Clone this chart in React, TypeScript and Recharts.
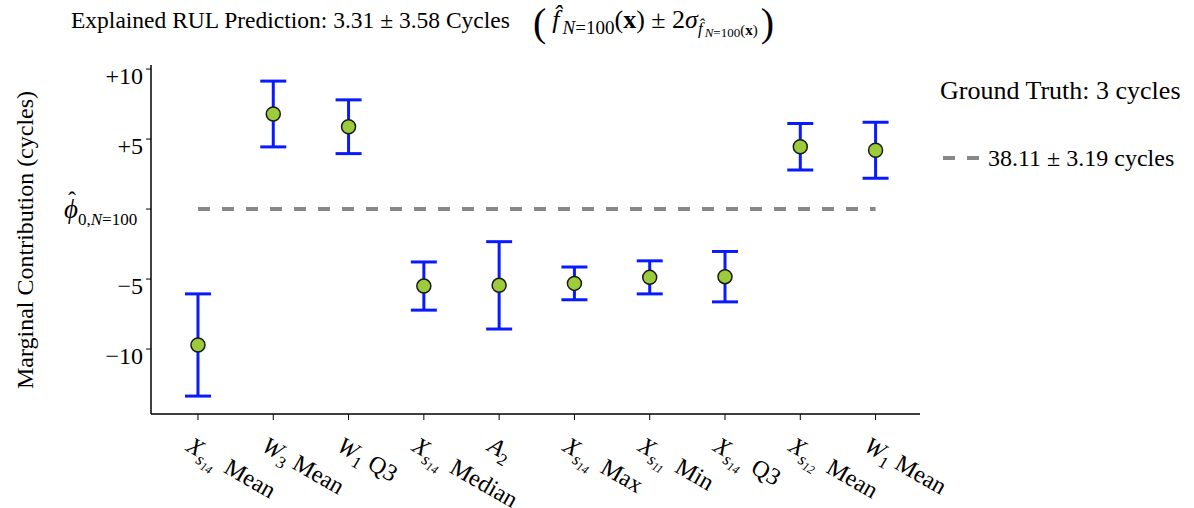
import React from "react";
import {
  ComposedChart,
  Scatter,
  ErrorBar,
  XAxis,
  YAxis,
  ReferenceLine,
} from "recharts";

const SERIF = "'Liberation Serif', 'DejaVu Serif', serif";

// feature labels: symbol, subscript, nested subscript, statistic
const featureSymbols = ["X", "W", "W", "X", "A", "X", "X", "X", "X", "W"];
const featureSubs = ["s", "3", "1", "s", "2", "s", "s", "s", "s", "1"];
const featureSubSubs = ["14", "", "", "14", "", "14", "11", "14", "12", ""];
const featureStats = ["Mean", "Mean", "Q3", "Median", "", "Max", "Min", "Q3", "Mean", "Mean"];

// marginal contribution (cycles) and 2-sigma half width
const contributions = [-9.71, 6.79, 5.88, -5.5, -5.45, -5.31, -4.88, -4.83, 4.45, 4.2];
const errors = [3.65, 2.35, 1.92, 1.72, 3.12, 1.17, 1.18, 1.8, 1.66, 2.0];

const yTicks = [-10, -5, 0, 5, 10];
const baseValue = 0;

const data = contributions.map((v, i) => ({ x: i, y: v, err: errors[i] }));

function FeatureTick({ x, y, payload }: any) {
  const i = payload.value as number;
  const hasSubSub = featureSubSubs[i] !== "";
  const stat = featureStats[i];
  return (
    <g transform={`translate(${x - 13},${y + 28}) rotate(30)`}>
      <text fontFamily={SERIF} fontSize={24} fill="#000">
        <tspan fontStyle="italic">{featureSymbols[i]}</tspan>
        {hasSubSub ? (
          <>
            <tspan fontStyle="italic" fontSize={17} dy={6}>
              {featureSubs[i]}
            </tspan>
            <tspan fontSize={12} fontStyle="italic" dy={3}>
              {featureSubSubs[i]}
            </tspan>
            {stat && (
              <tspan dx={10} dy={-9}>
                {stat}
              </tspan>
            )}
          </>
        ) : (
          <>
            <tspan fontSize={17} dy={6}>
              {featureSubs[i]}
            </tspan>
            {stat && (
              <tspan dx={7} dy={-6}>
                {stat}
              </tspan>
            )}
          </>
        )}
      </text>
    </g>
  );
}

function ContributionTick({ x, y, payload }: any) {
  const v = payload.value as number;
  if (v === baseValue) {
    return (
      <g fontFamily={SERIF} fill="#000">
        <text x={x - 71} y={y - 1} fontSize={24} textAnchor="middle">
          {"\u02C6"}
        </text>
        <text x={x - 79} y={y + 9}>
          <tspan fontSize={27} fontStyle="italic">
            {"\u03D5"}
          </tspan>
          <tspan fontSize={17} dy={7}>
            0,
          </tspan>
          <tspan fontSize={17} fontStyle="italic">
            N
          </tspan>
          <tspan fontSize={17}>=100</tspan>
        </text>
      </g>
    );
  }
  const label = v > 0 ? `+${v}` : `\u2212${Math.abs(v)}`;
  return (
    <text x={x} y={y + 15} textAnchor="end" fontFamily={SERIF} fontSize={24} fill="#000">
      {label}
    </text>
  );
}

export default function App() {
  return (
    <div style={{ position: "absolute", left: 0, top: 0, width: 1194, height: 508, background: "#fff" }}>
      <ComposedChart
        width={1194}
        height={508}
        data={data}
        margin={{ top: 65, right: 274, bottom: 0, left: 0 }}
      >
        <XAxis
          type="number"
          dataKey="x"
          domain={[-0.624, 9.59]}
          ticks={[0, 1, 2, 3, 4, 5, 6, 7, 8, 9]}
          allowDataOverflow
          height={94}
          tickSize={6}
          axisLine={{ stroke: "#000", strokeWidth: 1.5 }}
          tickLine={{ stroke: "#000", strokeWidth: 1 }}
          tick={<FeatureTick />}
          interval={0}
        />
        <YAxis
          type="number"
          dataKey="y"
          domain={[-14.64, 10.29]}
          ticks={yTicks}
          allowDataOverflow
          width={151}
          tickSize={5}
          tickMargin={3}
          axisLine={{ stroke: "#000", strokeWidth: 1.5 }}
          tickLine={{ stroke: "#000", strokeWidth: 1 }}
          tick={<ContributionTick />}
        />
        <ReferenceLine
          segment={[
            { x: 0, y: baseValue },
            { x: 9, y: baseValue },
          ]}
          stroke="#888"
          strokeWidth={4}
          strokeDasharray="12 12"
        />
        <Scatter
          dataKey="y"
          isAnimationActive={false}
          shape={(p: any) => (
            <circle cx={p.cx} cy={p.cy} r={7} fill="#9ccb3b" stroke="#1a1a1a" strokeWidth={1.5} />
          )}
        >
          <ErrorBar dataKey="err" direction="y" width={13} stroke="#0a1aff" strokeWidth={3} isAnimationActive={false} />
        </Scatter>
      </ComposedChart>

      <svg
        width={1194}
        height={508}
        style={{ position: "absolute", left: 0, top: 0, pointerEvents: "none" }}
        fontFamily={SERIF}
      >
        <text x={71} y={28} fontSize={23.5} fill="#000">
          Explained RUL Prediction: 3.31 ± 3.58 Cycles
        </text>
        <text x={533} y={36} fill="#000">
          <tspan fontSize={40}>(</tspan>
          <tspan fontSize={26} fontStyle="italic" dx={6} dy={-8}>
            {"f\u0302"}
          </tspan>
          <tspan fontSize={19} fontStyle="italic" dx={3} dy={6}>
            N
          </tspan>
          <tspan fontSize={19}>=100</tspan>
          <tspan fontSize={26} dy={-6}>
            (
          </tspan>
          <tspan fontSize={26} fontWeight="bold">
            x
          </tspan>
          <tspan fontSize={26}>) ± 2</tspan>
          <tspan fontSize={26} fontStyle="italic">
            σ
          </tspan>
          <tspan fontSize={17} fontStyle="italic" dy={6}>
            {"f\u0302"}
          </tspan>
          <tspan fontSize={13} fontStyle="italic" dx={2} dy={3}>
            N
          </tspan>
          <tspan fontSize={13}>=100</tspan>
          <tspan fontSize={15} dy={-2}>
            (
          </tspan>
          <tspan fontSize={15} fontWeight="bold">
            x
          </tspan>
          <tspan fontSize={15}>)</tspan>
          <tspan fontSize={40} dx={3} dy={1}>
            )
          </tspan>
        </text>

        <text
          transform="translate(33,240) rotate(-90)"
          textAnchor="middle"
          fontSize={24}
          fill="#000"
        >
          Marginal Contribution (cycles)
        </text>

        <text x={940} y={99} fontSize={26} fill="#000">
          Ground Truth: 3 cycles
        </text>
        <line x1={943} y1={158} x2={979} y2={158} stroke="#888" strokeWidth={4} strokeDasharray="12 12" />
        <text x={988} y={166} fontSize={24} fill="#000">
          38.11 ± 3.19 cycles
        </text>
      </svg>
    </div>
  );
}
